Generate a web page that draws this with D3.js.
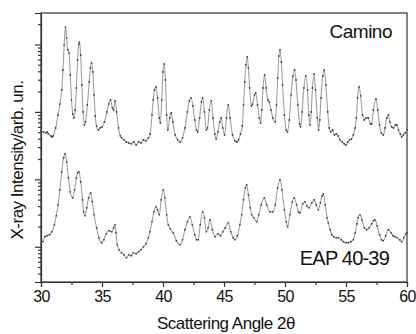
<!DOCTYPE html>
<html>
<head>
<meta charset="utf-8">
<script src="https://cdn.jsdelivr.net/npm/d3@7"></script>
<style>
  body { margin: 0; background: #fff; }
  text { font-family: "Liberation Sans", Arial, sans-serif; fill: #111; }
</style>
</head>
<body>
<svg id="chart" width="416" height="334"></svg>
<script>
// Camino sample (top pattern)
const caminoAngle = [30.0,30.2,30.4,30.5,30.6,30.8,30.9,31.0,31.2,31.4,31.55,31.7,31.8,31.9,32.0,32.1,32.2,32.3,32.4,32.5,32.6,32.7,32.8,32.9,33.0,33.1,33.15,33.25,33.35,33.45,33.55,33.65,33.8,33.95,34.05,34.15,34.25,34.35,34.45,34.55,34.7,34.85,35.0,35.2,35.4,35.55,35.7,35.85,35.95,36.07,36.2,36.35,36.5,36.6,36.8,37.0,37.2,37.4,37.6,37.8,38.0,38.2,38.4,38.6,38.8,38.95,39.1,39.2,39.3,39.43,39.55,39.7,39.78,39.9,40.0,40.1,40.2,40.3,40.4,40.55,40.68,40.8,41.0,41.2,41.42,41.6,41.8,42.0,42.15,42.3,42.45,42.6,42.75,42.85,43.0,43.15,43.25,43.4,43.55,43.65,43.8,43.96,44.1,44.25,44.35,44.5,44.65,44.78,44.9,45.05,45.2,45.35,45.5,45.7,45.9,46.05,46.2,46.35,46.5,46.6,46.7,46.8,46.91,47.0,47.1,47.24,47.35,47.5,47.6,47.75,47.9,48.0,48.1,48.2,48.33,48.45,48.6,48.7,48.85,49.0,49.2,49.3,49.4,49.5,49.59,49.7,49.8,49.95,50.1,50.2,50.35,50.5,50.65,50.79,50.9,51.05,51.2,51.28,51.4,51.55,51.7,51.85,51.95,52.05,52.15,52.25,52.38,52.5,52.65,52.75,52.85,52.95,53.1,53.22,53.35,53.5,53.63,53.75,53.9,54.05,54.2,54.35,54.5,54.7,54.85,55.0,55.15,55.3,55.45,55.6,55.75,55.85,55.95,56.07,56.2,56.35,56.5,56.65,56.83,57.0,57.1,57.25,57.46,57.6,57.75,57.9,58.06,58.2,58.35,58.47,58.6,58.75,58.9,59.05,59.16,59.3,59.45,59.56,59.7,59.85,60.0];
const caminoCounts = [523,505,489,505,472,441,426,441,579,903,1310,2120,4190,9830,18160,12480,8290,7480,3530,1510,934,815,1070,2270,5890,10170,10890,6990,2510,1000,642,711,1270,2780,4490,5320,3910,1790,872,620,541,579,600,711,1000,1310,1510,1150,1070,1460,1000,579,441,412,385,359,347,336,359,324,359,347,385,372,412,472,903,1510,2120,2350,1610,815,687,1510,3910,5140,2980,903,541,815,966,711,456,385,359,412,579,1000,1460,1610,1230,761,541,505,815,1410,1610,1000,541,579,1070,1460,815,472,398,505,711,815,579,456,815,1270,815,456,372,359,385,472,620,1270,2780,4970,6530,4490,2270,1230,1310,1790,1910,1270,815,687,1070,2270,3530,2270,1510,1410,1070,815,711,1270,3190,6750,8290,5510,2510,903,541,505,761,1790,3420,4190,2980,1270,664,600,1000,2270,3420,2120,903,642,1000,2270,3660,2120,815,541,761,1610,3420,4190,2510,1000,579,505,541,456,472,441,385,359,336,324,359,385,398,456,579,815,1610,2350,1730,903,761,815,815,664,664,1070,1560,1070,642,489,456,579,815,903,711,600,579,642,642,541,472,426,456,489,541];

// EAP 40-39 sample (bottom pattern)
const eapAngle = [30.0,30.15,30.33,30.5,30.7,30.9,31.1,31.25,31.4,31.55,31.7,31.85,31.97,32.1,32.25,32.4,32.6,32.75,32.9,33.0,33.11,33.25,33.4,33.5,33.6,33.75,33.9,34.07,34.2,34.35,34.56,34.75,34.97,35.15,35.35,35.6,35.8,35.95,36.07,36.15,36.25,36.4,36.6,36.8,37.0,37.2,37.4,37.57,37.8,38.0,38.2,38.4,38.6,38.8,38.93,39.1,39.25,39.43,39.55,39.7,39.85,40.03,40.15,40.3,40.43,40.6,40.84,41.1,41.39,41.6,41.8,42.0,42.21,42.4,42.6,42.75,42.9,43.05,43.25,43.4,43.55,43.7,43.85,44.05,44.26,44.5,44.7,44.9,45.1,45.35,45.55,45.75,45.9,46.1,46.3,46.45,46.6,46.75,46.86,47.0,47.15,47.27,47.45,47.68,47.85,48.05,48.3,48.5,48.77,49.0,49.2,49.4,49.59,49.75,49.95,50.1,50.22,50.4,50.6,50.76,50.95,51.1,51.23,51.45,51.64,51.8,51.97,52.2,52.4,52.55,52.73,52.9,53.05,53.14,53.3,53.45,53.55,53.7,53.83,54.0,54.2,54.38,54.6,54.8,55.0,55.2,55.4,55.6,55.75,55.9,56.0,56.15,56.3,56.5,56.7,56.9,57.1,57.25,57.38,57.55,57.75,57.9,58.06,58.25,58.47,58.7,58.85,59.02,59.2,59.4,59.57,59.75,59.9,60.0];
const eapCounts = [11.1,11.9,14.1,14.6,15.1,16.7,21.2,28.8,41.9,69.9,129,208,239,182,105,65.3,53.2,69.9,105,125,129,91.8,49.7,33.0,28.8,37.8,53.2,63.1,46.4,29.8,19.1,13.6,11.5,12.7,15.6,17.3,16.7,19.1,21.2,16.1,10.7,9.03,8.15,7.61,6.87,7.61,7.36,8.15,7.88,8.43,9.03,10,11.1,13.6,16.7,23.5,33.0,39.1,35.3,29.8,49.7,69.9,53.2,29.8,21.2,18.5,16.1,12.3,10.7,12.7,17.9,23.5,27.8,21.2,15.1,12.7,12.7,21.2,33.0,26.9,16.7,19.1,25.1,17.9,14.1,15.6,14.6,16.7,19.1,22.7,16.7,13.6,12.7,14.6,21.2,29.8,49.7,74.8,82.9,58.9,37.8,29.8,26.9,23.5,29.8,41.9,53.2,41.9,33.0,33.0,41.9,74.8,98.3,69.9,35.3,23.5,19.8,29.8,46.4,53.2,41.9,33.0,31.9,43.4,46.4,40.5,37.8,44.9,49.7,41.9,35.3,44.9,57.0,61.0,41.9,26.9,22.7,17.9,15.1,14.1,13.6,13.6,12.7,11.9,11.5,11.5,11.9,12.7,16.1,21.9,26.9,29.8,25.1,19.1,17.9,19.1,21.9,24.3,25.1,20.5,15.1,12.7,12.3,14.6,17.9,16.1,14.6,14.1,13.6,12.7,11.9,13.6,15.6,16.1];

const xTicks = [30, 35, 40, 45, 50, 55, 60];
const xMinorTicks = [32.5, 37.5, 42.5, 47.5, 52.5, 57.5];
const yMajorTicks = [10, 100, 1000, 10000];
const yMinorTicks = [4,5,6,7,8,9, 20,30,40,50,60,70,80,90, 200,300,400,500,600,700,800,900, 2000,3000,4000,5000,6000,7000,8000,9000, 20000];

const margin = {left: 41, right: 9, top: 13, bottom: 52};
const width = 416, height = 334;

const svg = d3.select("#chart");

const x = d3.scaleLinear()
    .domain([30, 60])
    .range([margin.left, width - margin.right]);

const y = d3.scaleLog()
    .domain([3, 29300])
    .range([height - margin.bottom, margin.top]);

const axisColor = "#333";

// frame (top + right)
svg.append("rect")
    .attr("x", x(30))
    .attr("y", margin.top)
    .attr("width", x(60) - x(30))
    .attr("height", y(3) - margin.top)
    .attr("fill", "none")
    .attr("stroke", axisColor)
    .attr("stroke-width", 1.2);

// bottom axis
const gx = svg.append("g")
    .attr("transform", `translate(0,${height - margin.bottom})`);
gx.call(d3.axisBottom(x).tickValues(xTicks).tickSize(5).tickPadding(4).tickFormat(d3.format("d")));
svg.append("g")
    .attr("transform", `translate(0,${height - margin.bottom})`)
    .call(d3.axisBottom(x).tickValues(xMinorTicks).tickSize(3).tickFormat(""))
    .call(g => g.select(".domain").remove());

gx.selectAll("text")
    .style("font-size", "16px")
    .style("letter-spacing", "-0.6px")
    .attr("fill", "#111");

// left axis (log, unlabeled)
svg.append("g")
    .attr("transform", `translate(${margin.left},0)`)
    .call(d3.axisLeft(y).tickValues(yMajorTicks).tickSize(6).tickFormat(""));
svg.append("g")
    .attr("transform", `translate(${margin.left},0)`)
    .call(d3.axisLeft(y).tickValues(yMinorTicks).tickSize(3).tickFormat(""))
    .call(g => g.select(".domain").remove());

svg.selectAll(".domain, .tick line")
    .attr("stroke", axisColor)
    .attr("stroke-width", 1.2);

// patterns: fitted line in grey, measured points as small dark dots
const series = [
    {name: "Camino", angle: caminoAngle, counts: caminoCounts},
    {name: "EAP 40-39", angle: eapAngle, counts: eapCounts}
];

const line = d3.line()
    .x(d => x(d[0]))
    .y(d => y(d[1]))
    .curve(d3.curveMonotoneX);

series.forEach(s => {
    const pts = s.angle.map((a, i) => [a, s.counts[i]]);
    svg.append("path")
        .datum(pts)
        .attr("fill", "none")
        .attr("stroke", "#a0a0a0")
        .attr("stroke-width", 1.1)
        .attr("d", line);
    svg.append("g")
        .selectAll("circle")
        .data(pts)
        .join("circle")
        .attr("cx", d => x(d[0]))
        .attr("cy", d => y(d[1]))
        .attr("r", 0.85)
        .attr("fill", "#333");
});

// labels
svg.append("text")
    .attr("x", 392)
    .attr("y", 38)
    .attr("text-anchor", "end")
    .style("font-size", "19px")
    .style("letter-spacing", "-0.5px")
    .text("Camino");

svg.append("text")
    .attr("x", 389)
    .attr("y", 265)
    .attr("text-anchor", "end")
    .style("font-size", "20px")
    .style("letter-spacing", "-0.8px")
    .text("EAP 40-39");

svg.append("text")
    .attr("x", 226)
    .attr("y", 329)
    .attr("text-anchor", "middle")
    .style("font-size", "17px")
    .style("letter-spacing", "-0.5px")
    .text("Scattering Angle 2θ");

svg.append("text")
    .attr("transform", "translate(23,160) rotate(-90)")
    .attr("text-anchor", "middle")
    .style("font-size", "17px")
    .style("letter-spacing", "-0.5px")
    .text("X-ray Intensity/arb. un.");
</script>
</body>
</html>
